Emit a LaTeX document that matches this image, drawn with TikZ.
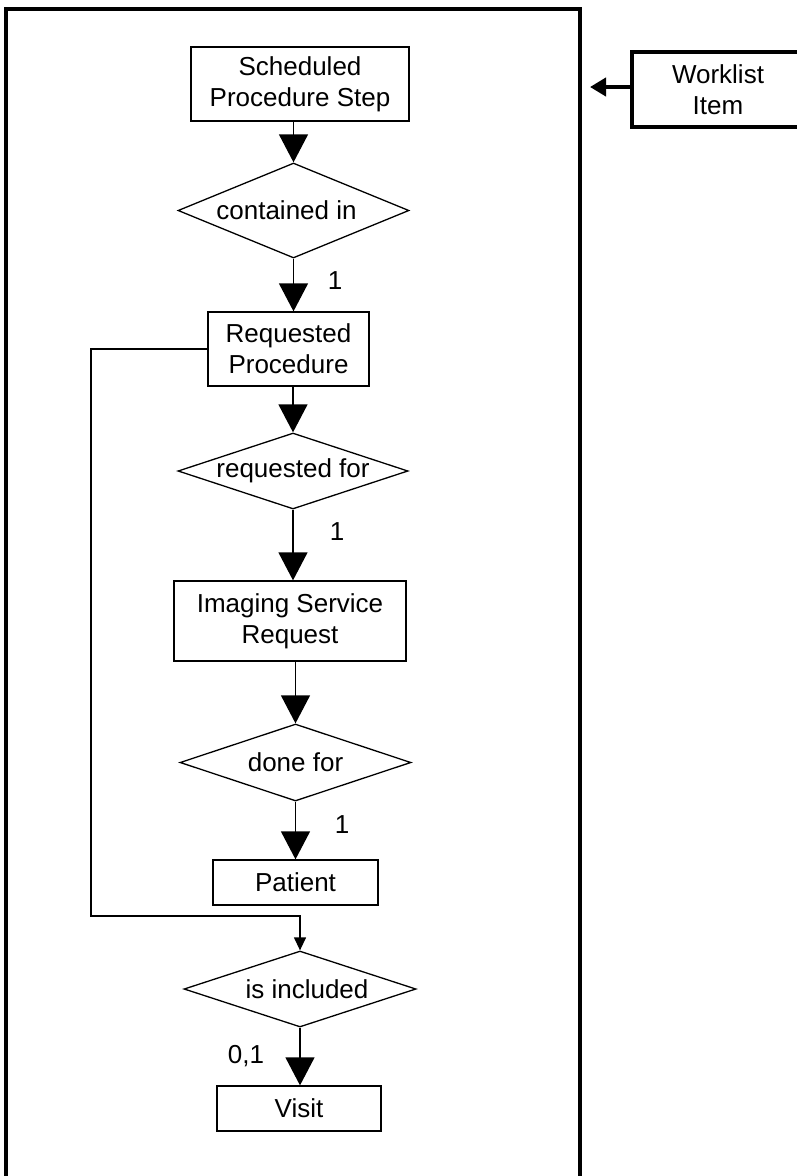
\documentclass[tikz,border=0pt]{standalone}
\usepackage{fontspec}
\setmainfont{Liberation Sans}
\usetikzlibrary{shapes.geometric}
\usetikzlibrary{arrows.meta}
\tikzset{erbox/.style={draw, rectangle, line width=1.3pt, align=center,
inner sep=0pt, font=\fontsize{26}{31}\selectfont},
erdia/.style={draw, diamond, line width=1.3pt, inner sep=0pt,
font=\fontsize{26}{31}\selectfont}}
\newcommand{\reltext}[2][0pt]{\makebox[0pt]{\hspace{#1}#2}}

\begin{document}
\begin{tikzpicture}[x=1pt, y=-1pt, card/.style={font=\fontsize{26}{31}\selectfont},
	big/.style={-{Triangle[length=28pt,width=29pt]}, line width=1.3pt}]
			\useasboundingbox (0,0) rectangle (796,1176);
			% frame
			\draw[line width=4.5pt] (6,1195) -- (6,9) -- (580,9) -- (580,1195);
			\node[erbox, line width=4pt, minimum width=172pt, minimum height=75pt] (wl) at (718,89.5) {Worklist\\Item};
			\coordinate (wlend) at (590,87);
			\draw[line width=4pt, -{Triangle[length=16pt,width=18pt]}] (wl.west |- wlend) -- (wlend);
			% entities and relations
			\node[erbox, minimum width=218pt, minimum height=74pt] (sps) at (300,84) {\raisebox{-4pt}{Scheduled}\\\raisebox{-4pt}{Procedure Step}};
			\node[erdia, minimum width=231pt, minimum height=95pt] (d1) at (293.5,210.5) {\reltext[-14pt]{contained in}};
			\node[erbox, minimum width=161pt, minimum height=74pt] (rp) at (288.5,349) {Requested\\Procedure};
			\node[erdia, minimum width=230pt, minimum height=76pt] (d2) at (293,471) {\reltext{\raisebox{-4pt}{requested for}}};
			\node[erbox, minimum width=232pt, minimum height=80pt] (isr) at (290,621) {Imaging Service\\Request};
			\node[erdia, minimum width=231pt, minimum height=77pt] (d3) at (295.5,762.5) {\reltext{done for}};
			\node[erbox, minimum width=165pt, minimum height=45pt] (pat) at (295.5,882.5) {Patient};
			\node[erdia, minimum width=232pt, minimum height=76pt] (d4) at (300,989) {\reltext[14pt]{is included}};
			\node[erbox, minimum width=164pt, minimum height=45pt] (vis) at (299,1108.5) {Visit};
			% cardinalities
			\node[card] (c1) at (335,281) {1};
			\node[card] (c2) at (337,532) {1};
			\node[card] (c3) at (342,825) {1};
			\node[card] (c4) at (246,1056) {0,1};
			% links
			\draw[big] (d1 |- sps.south) -- (d1.north);
			\draw[big] (d1.south) -- (d1.south |- rp.north);
			\draw[big] (d2 |- rp.south) -- (d2.north);
			\draw[big] (d2.south) -- (d2.south |- isr.north);
			\draw[big] (d3 |- isr.south) -- (d3.north);
			\draw[big] (d3.south) -- (d3.south |- pat.north);
			\draw[big] (d4.south) -- (d4.south |- vis.north);
			\coordinate (fb) at (91,916);
			\draw[line width=1.3pt, -{Triangle[length=13pt,width=12pt]}] (rp.west) -| (fb) -| (d4.north);
\end{tikzpicture}
\end{document}
